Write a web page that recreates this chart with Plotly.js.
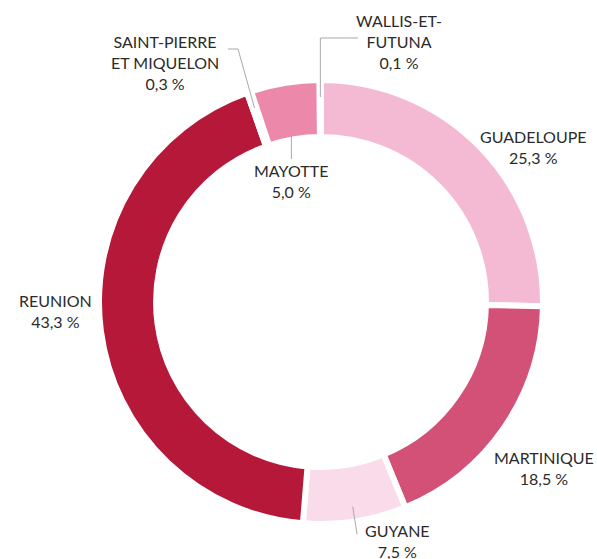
<!DOCTYPE html>
<html>
<head>
<meta charset="utf-8">
<script src="https://cdn.plot.ly/plotly-3.0.1.min.js"></script>
<style>html,body{margin:0;padding:0;background:#fff}#chart{width:597px;height:559px}</style>
</head>
<body>
<div id="chart"></div>
<script>
// ---- data ----
const regions = ["GUADELOUPE", "MARTINIQUE", "GUYANE", "REUNION", "SAINT-PIERRE ET MIQUELON", "MAYOTTE", "WALLIS-ET-FUTUNA"];
const labelLines = ["GUADELOUPE", "MARTINIQUE", "GUYANE", "REUNION", "SAINT-PIERRE<br>ET MIQUELON", "MAYOTTE", "WALLIS-ET-<br>FUTUNA"];
const shares = [25.3, 18.5, 7.5, 43.3, 0.3, 5.0, 0.1];
const colors = ["#f5bad3", "#d35077", "#f9dbe9", "#b51838", "#ec88a9", "#ec88a9", "#f5bad3"];

// ---- layout / style (pixels) ----
const W = 597, H = 559;
const cx = 321, cy = 302, R = 222;
// label centre positions (px) and leader line definitions
const labelPos = [[533,147],[544,468],[397,541],[55,311],[165,62],[null,181],[399,41]];
const leader = {
  6: {r: 205, pts: a => [[a[0], a[1]], [a[0], 38], [358, 38]]},
  4: {r: 205, pts: a => [[a[0], a[1]], [238, 49], [228, 49]]},
  5: {r: 182, pts: a => [[a[0], a[1]], [a[0], 159]]},
  2: {r: 207, rEnd: 235}
};

const px = x => x / W, py = y => 1 - y / H;
const total = shares.reduce((s, v) => s + v, 0);
let cum = 0;
const mid = shares.map(v => { const m = (cum + v / 2) / total * 2 * Math.PI; cum += v; return m; });
const pt = (ang, r) => [cx + r * Math.sin(ang), cy - r * Math.cos(ang)];

const fmt = v => v.toFixed(1).replace('.', ',') + ' %';
const annotations = [];
const shapes = [];
regions.forEach((name, i) => {
  let [lx, ly] = labelPos[i];
  const L = leader[i];
  if (L) {
    const a = pt(mid[i], L.r);
    let pts;
    if (L.rEnd) pts = [a, pt(mid[i], L.rEnd)];
    else pts = L.pts(a);
    if (lx === null) lx = a[0];
    const path = pts.map((p, k) => (k ? 'L' : 'M') + px(p[0]) + ',' + py(p[1])).join(' ');
    shapes.push({type: 'path', path, xref: 'paper', yref: 'paper', line: {color: '#a9a9a9', width: 1}});
  }
  annotations.push({
    text: labelLines[i] + '<br>' + fmt(shares[i]),
    x: px(lx), y: py(ly), xref: 'paper', yref: 'paper',
    xanchor: 'center', yanchor: 'middle', showarrow: false,
    font: {family: 'Lato, sans-serif', size: 16, color: '#2b2b2b'}, align: 'center'
  });
});

const trace = {
  type: 'pie', labels: regions, values: shares, sort: false,
  direction: 'clockwise', rotation: 0, hole: 0.743,
  marker: {colors, line: {color: '#ffffff', width: 6}},
  textinfo: 'none', hoverinfo: 'label+percent', showlegend: false,
  domain: {x: [(cx - R) / W, (cx + R) / W], y: [(H - cy - R) / H, (H - cy + R) / H]}
};

Plotly.newPlot('chart', [trace], {
  width: W, height: H, margin: {l: 0, r: 0, t: 0, b: 0},
  paper_bgcolor: '#ffffff', showlegend: false, annotations, shapes
}, {displayModeBar: false, staticPlot: true});
</script>
</body>
</html>
